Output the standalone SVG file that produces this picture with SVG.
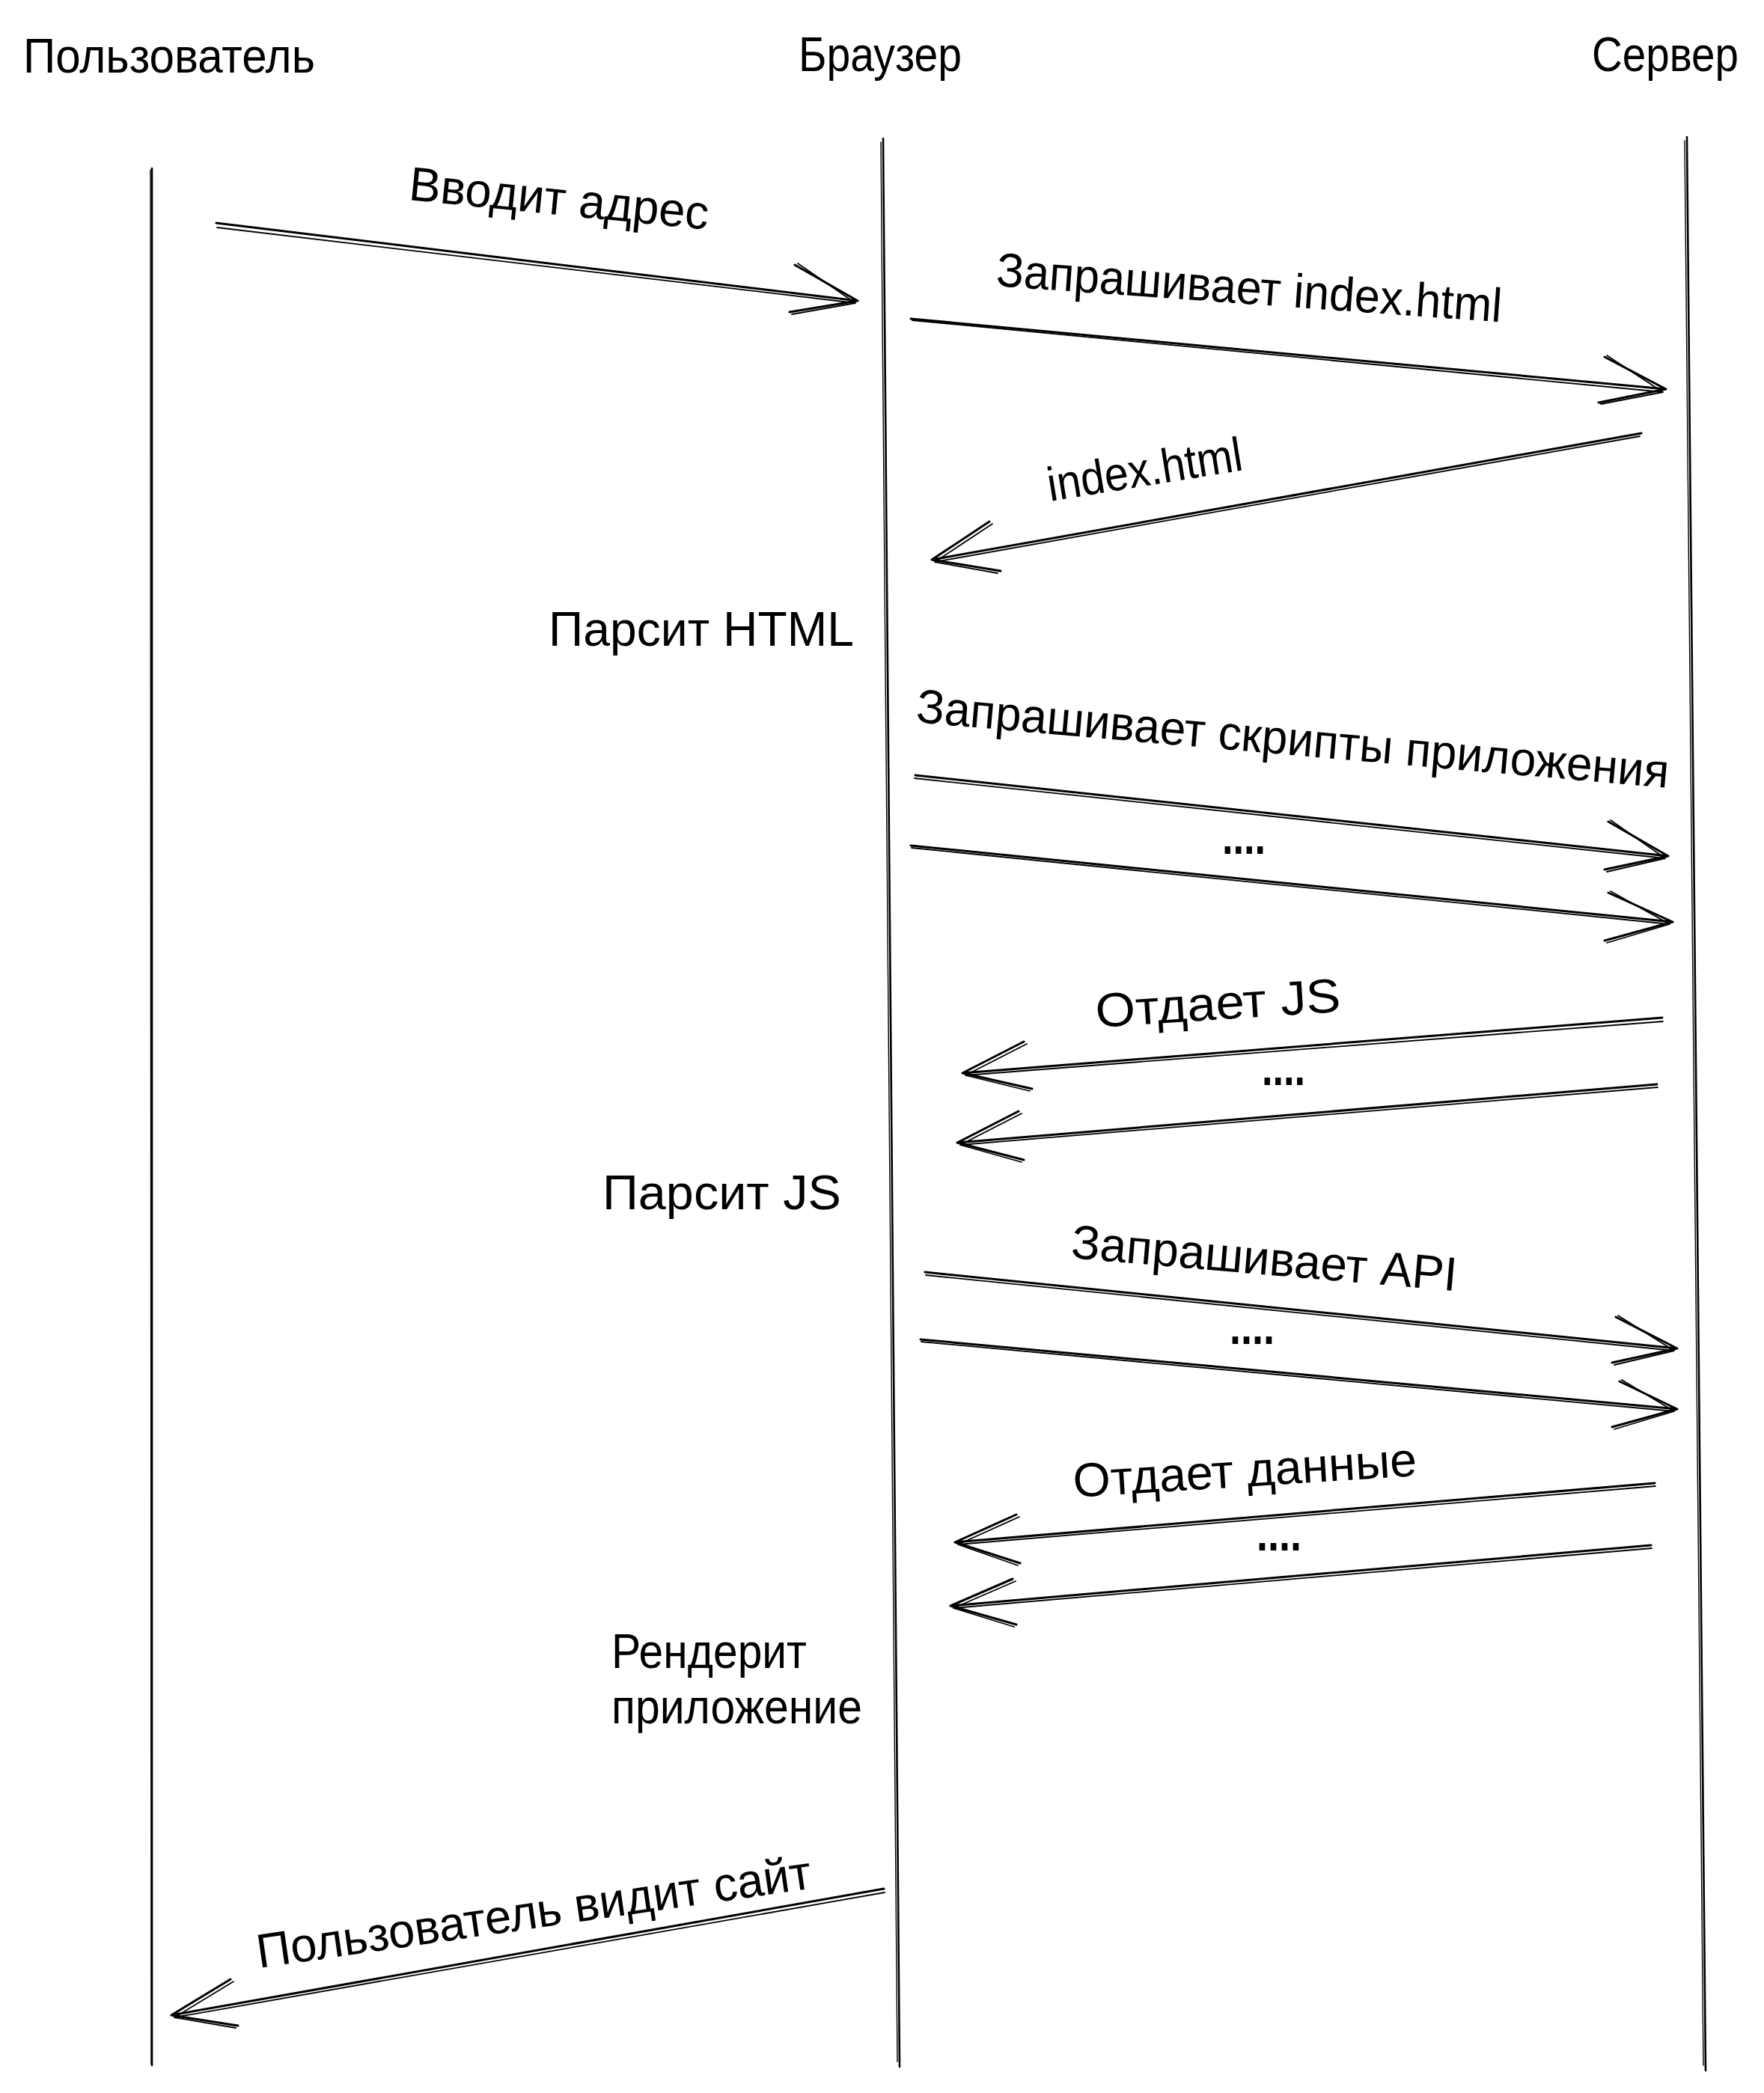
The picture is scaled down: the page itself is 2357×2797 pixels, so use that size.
<svg xmlns="http://www.w3.org/2000/svg" xmlns:xlink="http://www.w3.org/1999/xlink" width="2357" height="2797" viewBox="0 0 2357 2797">
<style>
  .bg { fill: #ffffff; }
  .life { stroke: #000; stroke-width: 2.6; fill: none; stroke-linecap: round; }
  .life2 { stroke: #000; stroke-width: 1.4; fill: none; stroke-linecap: round; }
  .arr { stroke: #000; stroke-width: 3; fill: none; stroke-linecap: round; stroke-linejoin: round; }
  .arr2 { stroke: #000; stroke-width: 1.8; fill: none; stroke-linecap: round; stroke-linejoin: round; }
  .t { font-family: "Liberation Sans", "Noto Sans", sans-serif; font-size: 64px; fill: #000; }
  .dots { font-family: "Liberation Sans", "Noto Sans", sans-serif; font-size: 66px; font-weight: bold; fill: #000; }
</style>
<rect class="bg" x="0" y="0" width="2357" height="2797"/>

<g id="user">
  <text class="t" x="31" y="97" textLength="390" lengthAdjust="spacingAndGlyphs">Пользователь</text>
  <path class="life" d="M203 225 L203 2760"/>
  <path class="life2" d="M201 227 L202 2758"/>
</g>
<g id="browser">
  <text class="t" x="1067" y="95" textLength="218" lengthAdjust="spacingAndGlyphs">Браузер</text>
  <path class="life" d="M1180 185 L1202 2762"/>
  <path class="life2" d="M1177 190 L1199 2755"/>
</g>
<g id="server">
  <text class="t" x="2127" y="95" textLength="196" lengthAdjust="spacingAndGlyphs">Сервер</text>
  <path class="life" d="M2254 183 L2279 2767"/>
  <path class="life2" d="M2251 188 L2276 2760"/>
</g>

<g id="browser-notes">
  <text class="t" x="733" y="863" textLength="408" lengthAdjust="spacingAndGlyphs">Парсит HTML</text>
  <text class="t" x="805" y="1616" textLength="319" lengthAdjust="spacingAndGlyphs">Парсит JS</text>
  <text class="t" x="817" y="2229" textLength="261" lengthAdjust="spacingAndGlyphs">Рендерит</text>
  <text class="t" x="817" y="2303" textLength="335" lengthAdjust="spacingAndGlyphs">приложение</text>
</g>

<g id="connectors">
  <g id="a1">
    <path class="arr" d="M289 298 L1146 402 M1062 354 L1146 402 L1055 417"/>
    <path class="arr2" d="M290 304 L1143 405 M1066 352 L1143 405 L1058 420"/>
  </g>
  <g id="a2">
    <path class="arr" d="M1217 426 L2226 520 M2144 477 L2226 520 L2136 538"/>
    <path class="arr2" d="M1219 428 L2222 524 M2147 475 L2222 524 L2139 540"/>
  </g>
  <g id="a3">
    <path class="arr" d="M2193 579 L1245 748 M1322 697 L1245 748 L1337 763"/>
    <path class="arr2" d="M2191 583 L1249 751 M1326 700 L1249 751 L1333 766"/>
  </g>
  <g id="a4">
    <path class="arr" d="M1223 1036 L2229 1144 M2149 1098 L2229 1144 L2144 1162"/>
    <path class="arr2" d="M1222 1040 L2225 1147 M2152 1096 L2225 1147 L2147 1165"/>
  </g>
  <g id="a5">
    <path class="arr" d="M1217 1130 L2235 1232 M2149 1193 L2235 1232 L2144 1257"/>
    <path class="arr2" d="M1218 1133 L2231 1235 M2152 1191 L2231 1235 L2147 1260"/>
  </g>
  <g id="a6">
    <path class="arr" d="M2221 1360 L1286 1434 M1368 1392 L1286 1434 L1379 1455"/>
    <path class="arr2" d="M2222 1365 L1290 1437 M1372 1395 L1290 1437 L1376 1458"/>
  </g>
  <g id="a7">
    <path class="arr" d="M2214 1449 L1279 1527 M1361 1485 L1279 1527 L1368 1550"/>
    <path class="arr2" d="M2215 1453 L1283 1530 M1365 1488 L1283 1530 L1365 1553"/>
  </g>
  <g id="a8">
    <path class="arr" d="M1236 1700 L2241 1802 M2159 1760 L2241 1802 L2154 1821"/>
    <path class="arr2" d="M1237 1704 L2237 1805 M2162 1758 L2237 1805 L2157 1824"/>
  </g>
  <g id="a9">
    <path class="arr" d="M1230 1790 L2241 1883 M2164 1846 L2241 1883 L2154 1907"/>
    <path class="arr2" d="M1231 1793 L2237 1886 M2167 1844 L2237 1886 L2157 1910"/>
  </g>
  <g id="a10">
    <path class="arr" d="M2211 1982 L1276 2061 M1358 2024 L1276 2061 L1363 2089"/>
    <path class="arr2" d="M2212 1986 L1280 2064 M1362 2027 L1280 2064 L1360 2092"/>
  </g>
  <g id="a11">
    <path class="arr" d="M2206 2065 L1270 2146 M1353 2110 L1270 2146 L1358 2171"/>
    <path class="arr2" d="M2207 2069 L1274 2149 M1357 2113 L1274 2149 L1355 2174"/>
  </g>
  <g id="a12">
    <path class="arr" d="M1181 2524 L229 2693 M308 2645 L229 2693 L318 2707"/>
    <path class="arr2" d="M1182 2529 L233 2696 M312 2648 L233 2696 L315 2710"/>
  </g>
</g>

<g id="connector-labels">
  <text class="t" x="545" y="267" transform="rotate(5.7 545 267)" textLength="402" lengthAdjust="spacingAndGlyphs">Вводит адрес</text>
  <text class="t" x="1330" y="382" transform="rotate(4.1 1330 382)" textLength="677" lengthAdjust="spacingAndGlyphs">Запрашивает index.html</text>
  <text class="t" x="1403" y="670" transform="rotate(-9.2 1403 670)" textLength="263" lengthAdjust="spacingAndGlyphs">index.html</text>
  <text class="t" x="1223" y="965" transform="rotate(5.0 1223 965)" textLength="1009" lengthAdjust="spacingAndGlyphs">Запрашивает скрипты приложения</text>
  <text class="dots" x="1633" y="1141" textLength="58" lengthAdjust="spacingAndGlyphs">....</text>
  <text class="t" x="1465" y="1373" transform="rotate(-3.7 1465 1373)" textLength="328" lengthAdjust="spacingAndGlyphs">Отдает JS</text>
  <text class="dots" x="1686" y="1450" textLength="58" lengthAdjust="spacingAndGlyphs">....</text>
  <text class="t" x="1430" y="1681" transform="rotate(4.9 1430 1681)" textLength="517" lengthAdjust="spacingAndGlyphs">Запрашивает API</text>
  <text class="dots" x="1643" y="1796" textLength="60" lengthAdjust="spacingAndGlyphs">....</text>
  <text class="t" x="1435" y="2001" transform="rotate(-3.6 1435 2001)" textLength="460" lengthAdjust="spacingAndGlyphs">Отдает данные</text>
  <text class="dots" x="1679" y="2072" textLength="60" lengthAdjust="spacingAndGlyphs">....</text>
  <text class="t" x="346" y="2630" transform="rotate(-8.2 346 2630)" textLength="748" lengthAdjust="spacingAndGlyphs">Пользователь видит сайт</text>
</g>
</svg>
